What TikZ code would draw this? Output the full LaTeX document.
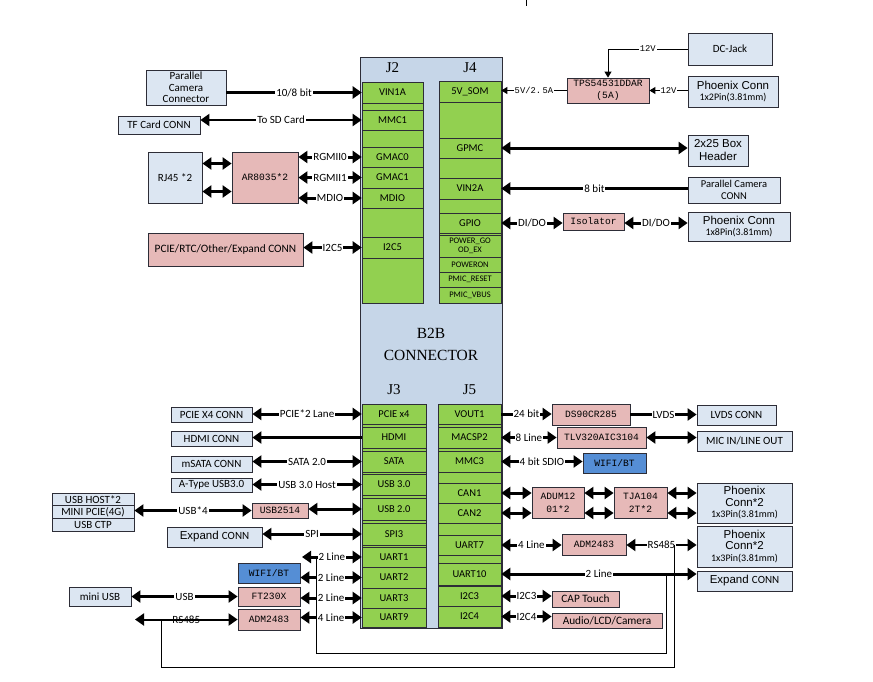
\documentclass[tikz,border=0pt]{standalone}
\usepackage{fontspec}
\setmainfont{Carlito}
\newfontfamily\chipfont{Liberation Mono}
\newfontfamily\arialfont{Liberation Sans}
\newfontfamily\jfont{Liberation Serif}
\usetikzlibrary{arrows.meta, calc}
\definecolor{b2bblue}{RGB}{198,214,232}
\definecolor{connblue}{RGB}{220,230,242}
\definecolor{chippink}{RGB}{230,185,184}
\definecolor{pingreen}{RGB}{146,208,80}
\definecolor{wifiblue}{RGB}{85,142,213}
\definecolor{edgegray}{RGB}{45,45,55}
\newcommand\fsz[2]{\fontsize{#1}{#2}\selectfont}
\newcommand\arl{\arialfont\fsz{11.5}{13}}
\newcommand\pinsz{\normalfont\fsz{10}{12}}
\newcommand\expandtxt{\arl Expand \normalfont\fsz{11}{12}CONN}
\tikzset{
  bigtip/.tip={Triangle[length=9pt,width=12pt]},
  smalltip/.tip={Triangle[length=6pt,width=7pt]},
  conn/.style={draw=edgegray, fill=connblue, line width=0.8pt, inner sep=0pt, align=center, font=\fsz{11}{11.5}},
  chip/.style={draw=edgegray, fill=chippink, line width=0.8pt, inner sep=0pt, align=center, font=\chipfont\fsz{9.6}{13}},
  chiptxt/.style={chip, font=\fsz{11.3}{12}},
  wifi/.style={chip, fill=wifiblue},
  pinrow/.style={draw=edgegray, fill=pingreen, line width=0.6pt, inner sep=0pt, align=center, font=\fsz{10.5}{11}},
  pinsm/.style={pinrow, font=\fsz{8.5}{9.5}},
  jlbl/.style={font=\jfont\fsz{15}{17}},
  bus/.style={line width=3pt, arrows={bigtip-bigtip}},
  busto/.style={line width=3pt, arrows={-bigtip}},
  link/.style={line width=2pt, arrows={bigtip-bigtip}},
  wire/.style={line width=1pt},
  wireto/.style={line width=1pt, arrows={-smalltip}},
  lbl/.style={fill=white, inner sep=1pt, font=\fsz{11}{11.5}},
  lblmono/.style={fill=white, inner sep=1pt, font=\chipfont\fsz{8.8}{10}},
}
\begin{document}
\begin{tikzpicture}[x=1pt, y=-1pt, font=\fsz{11}{11.5}]
  \useasboundingbox (0,0) rectangle (873,681);
  \draw[wire] (526,0) -- (526,6);

  % B2B connector
  \node[draw=edgegray, fill=b2bblue, line width=0.8pt, inner sep=0pt, minimum width=142pt, minimum height=571pt] (b2b) at (431,342.5) {};
  \node[jlbl] (jtwo) at (392.5,68) {J2};
  \node[jlbl] (jfour) at (470,68) {J4};
  \node[jlbl] (jthree) at (394,390) {J3};
  \node[jlbl] (jfive) at (469.5,390) {J5};
  \node[font=\jfont\fsz{15.5}{22}, align=center] (b2btitle) at (431,344) {B2B\\CONNECTOR};

  \foreach \nm/\ya/\yb/\lbl/\st in {
    vinA/82/103/VIN1A/pinrow, j2ga/103/110/{}/pinrow, mmcA/110/130/MMC1/pinrow,
    j2gb/130/147/{}/pinrow, gmacA/147/167/GMAC0/pinrow, gmacB/167/188/GMAC1/pinrow,
    mdio/188/208/MDIO/pinrow, j2gc/208/237/{}/pinrow, iicV/237/258/I2C5/pinrow,
    j2gd/258/303/{}/pinrow}
    \node[\st, minimum width=61pt, minimum height={(\yb-\ya)*1pt}] (\nm) at (392.5,{(\ya+\yb)/2}) {\lbl};
  \foreach \nm/\ya/\yb/\lbl/\st in {
    fivev/81/102/5V\_SOM/pinrow, j4ga/102/138/{}/pinrow, gpmc/138/158/GPMC/pinrow,
    j4gb/158/178/{}/pinrow, vinB/178/199/VIN2A/pinrow, j4gc/199/213/{}/pinrow,
    gpio/213/233/GPIO/pinrow, j4gd/233/235/{}/pinrow, pgood/235/257/{POWER\_GO\\OD\_EX}/pinsm,
    pwron/257/272/POWERON/pinsm, pmrst/272/287/PMIC\_RESET/pinsm, pmvbus/287/303/PMIC\_VBUS/pinsm}
    \node[\st, minimum width=62pt, minimum height={(\yb-\ya)*1pt}] (\nm) at (470,{(\ya+\yb)/2}) {\lbl};
  \foreach \nm/\ya/\yb/\lbl/\st in {
    pcie/404/424/PCIE x4/pinrow, j3ga/424/427/{}/pinrow, hdmi/427/448/HDMI/pinrow,
    j3gb/448/451/{}/pinrow, sata/451/472/SATA/pinrow, j3gc/472/474/{}/pinrow,
    usbc/474/495/USB 3.0/pinrow, j3gd/495/498/{}/pinrow, usbb/498/520/USB 2.0/pinrow,
    j3ge/520/523/{}/pinrow, spi/523/545/SPI3/pinrow, j3gf/545/547/{}/pinrow,
    uartA/547/567/UART1/pinrow, uartB/567/588/UART2/pinrow, uartC/588/608/UART3/pinrow,
    uartI/608/627/UART9/pinrow}
    \node[\st, minimum width=64pt, minimum height={(\yb-\ya)*1pt}] (\nm) at (394,{(\ya+\yb)/2}) {\lbl};
  \foreach \nm/\ya/\yb/\lbl/\st in {
    vout/404/424/VOUT1/pinrow, j5ga/424/427/{}/pinrow, macsp/427/448/MACSP2/pinrow,
    j5gb/448/451/{}/pinrow, mmcC/451/472/MMC3/pinrow, j5gc/472/483/{}/pinrow,
    canA/483/503/CAN1/pinrow, canB/503/523/CAN2/pinrow, j5gd/523/535/{}/pinrow,
    uartG/535/555/UART7/pinrow, j5ge/555/563/{}/pinrow, uartJ/563/585/UART10/pinrow,
    j5gf/585/586/{}/pinrow, iicC/586/606/I2C3/pinrow, iicD/606/627/I2C4/pinrow}
    \node[\st, minimum width=63pt, minimum height={(\yb-\ya)*1pt}] (\nm) at (469.5,{(\ya+\yb)/2}) {\lbl};

  % J2 side
  \node[conn, minimum width=80pt, minimum height=35pt] (pcamL) at (186,87.5) {Parallel\\Camera\\Connector};
  \node[conn, minimum width=82pt, minimum height=18pt] (tfcard) at (159,125) {TF Card CONN};
  \node[conn, minimum width=54pt, minimum height=51pt] (rjport) at (175,177.5) {RJ45 *2};
  \node[chip, minimum width=66pt, minimum height=51pt] (ethphy) at (265,177.5) {AR8035*2};
  \node[chiptxt, minimum width=155pt, minimum height=33pt] (expbus) at (225.5,249.5) {PCIE/RTC/Other/Expand CONN};

  \draw[busto] (pcamL.east |- vinA) -- (vinA.west) node[lbl, midway] {10/8 bit};
  \draw[link] (mmcA.west) -- (mmcA.west -| tfcard.east) node[lbl, midway] {To SD Card};
  \draw[bus] ([yshift=14pt]rjport.east) -- ([yshift=14pt]rjport.east -| ethphy.west);
  \draw[bus] ([yshift=-14pt]rjport.east) -- ([yshift=-14pt]rjport.east -| ethphy.west);
  \foreach \r/\t in {gmacA/RGMII0, gmacB/RGMII1, mdio/MDIO}
    \draw[bus] (\r.west -| ethphy.east) -- (\r.west) node[lbl, midway] {\t};
  \draw[bus] (iicV.west -| expbus.east) -- (iicV.west) node[lbl, midway] {I2C5};

  % J4 side
  \node[conn, minimum width=84pt, minimum height=32pt] (dcjack) at (730,49) {DC-Jack};
  \node[conn, minimum width=90pt, minimum height=31pt] (phxB) at (733,91.5) {\arl Phoenix Conn\\\pinsz 1x2Pin(3.81mm)};
  \node[chip, minimum width=82pt, minimum height=25pt, font=\chipfont\fsz{9.6}{12}] (buck) at (608,90.5) {TPS54531DDAR\\(5A)};
  \node[conn, minimum width=60pt, minimum height=31pt, font=\arialfont\fsz{11.5}{13}] (boxhdr) at (718,150.5) {2x25 Box\\Header};
  \node[conn, minimum width=92pt, minimum height=26pt, font=\fsz{10.5}{12}] (pcamR) at (734,190) {Parallel Camera\\CONN};
  \node[chip, minimum width=61pt, minimum height=17pt] (isol) at (593.5,221.5) {Isolator};
  \node[conn, minimum width=102pt, minimum height=29pt] (phxH) at (739,226.5) {\arl Phoenix Conn\\\pinsz 1x8Pin(3.81mm)};

  \draw[wireto] (buck.west) -- (buck.west -| fivev.east) node[lblmono, midway] {5V/2.\,5A};
  \draw[wireto] (dcjack.west) -| (buck.north) node[lblmono, pos=0.25] {12V};
  \draw[wireto] (phxB.west |- buck.east) -- (buck.east) node[lblmono, midway] {12V};
  \draw[bus] (gpmc.east) -- (gpmc.east -| boxhdr.west);
  \draw[busto] (pcamR.west |- vinB) -- (vinB.east) node[lbl, midway] {8 bit};
  \draw[bus] (gpio.east) -- (gpio.east -| isol.west) node[lbl, midway] {DI/DO};
  \draw[bus] (gpio.east -| isol.east) -- (gpio.east -| phxH.west) node[lbl, midway] {DI/DO};

  % J3 side
  \node[conn, minimum width=81pt, minimum height=15pt] (pciecon) at (211.5,414.5) {PCIE X4 CONN};
  \node[conn, minimum width=81pt, minimum height=15pt] (hdmicon) at (211.5,438.5) {HDMI CONN};
  \node[conn, minimum width=81pt, minimum height=16pt] (satacon) at (211.5,464) {mSATA CONN};
  \node[conn, minimum width=81pt, minimum height=14pt] (usbA) at (211.5,485) {A-Type USB3.0};
  \node[conn, minimum width=82pt, minimum height=12.7pt] (usbhost) at (93,499.3) {USB HOST*2};
  \node[conn, minimum width=82pt, minimum height=12.7pt] (minipcie) at (93,512) {MINI PCIE(4G)};
  \node[conn, minimum width=82pt, minimum height=12.7pt] (usbctp) at (93,524.7) {USB CTP};
  \node[chip, minimum width=56pt, minimum height=15pt] (usbhub) at (280,510.5) {USB2514};
  \node[conn, minimum width=95pt, minimum height=20pt] (expL) at (214.5,537) {\expandtxt};
  \node[wifi, minimum width=62pt, minimum height=20pt] (wifiL) at (269,573) {WIFI/BT};
  \node[conn, minimum width=62pt, minimum height=19pt] (miniusb) at (100,596.5) {mini USB};
  \node[chip, minimum width=62pt, minimum height=19pt] (uartbr) at (269,596.5) {FT230X};
  \node[chip, minimum width=62pt, minimum height=21pt] (rsL) at (269,619.5) {ADM2483};
  \coordinate (uartEnd) at (302,557);
  \coordinate (rsEnd) at (135,619.5);

  \draw[bus] (pcie.west) -- (pcie.west -| pciecon.east) node[lbl, midway] {PCIE*2 Lane};
  \draw[busto] (hdmi.west) -- (hdmi.west -| hdmicon.east);
  \draw[bus] (sata.west) -- (sata.west -| satacon.east) node[lbl, midway] {SATA 2.0};
  \draw[bus] (usbc.west) -- (usbc.west -| usbA.east) node[lbl, midway] {USB 3.0 Host};
  \draw[bus] (usbb.west) -- (usbb.west -| usbhub.east);
  \draw[bus] (usbhub.west) -- (usbhub.west -| minipcie.east) node[lbl, midway] {USB*4};
  \draw[bus] (spi.west) -- (spi.west -| expL.east) node[lbl, midway] {SPI};
  \draw[bus] (uartA.west) -- (uartEnd) node[lbl, midway] {2 Line};
  \draw[bus] (uartB.west) -- (uartB.west -| wifiL.east) node[lbl, midway] {2 Line};
  \draw[bus] (uartC.west) -- (uartC.west -| uartbr.east) node[lbl, midway] {2 Line};
  \draw[bus] (uartI.west) -- (uartI.west -| rsL.east) node[lbl, midway] {4 Line};
  \draw[bus] (miniusb.east) -- (uartbr.west) node[lbl, midway] {USB};
  \draw[link] (rsL.west) -- (rsEnd) node[lbl, midway, fill=none] {RS485};

  % J5 side
  \node[chip, minimum width=78pt, minimum height=21pt] (lvdsser) at (591,414.5) {DS90CR285};
  \node[conn, minimum width=79pt, minimum height=20pt] (lvdsconn) at (736.5,415) {LVDS CONN};
  \node[chip, minimum width=89pt, minimum height=21pt] (codec) at (601.5,437.5) {TLV320AIC3104};
  \node[conn, minimum width=95pt, minimum height=20pt] (audioio) at (744.5,441) {MIC IN/LINE OUT};
  \node[wifi, minimum width=63pt, minimum height=20pt] (wifiR) at (614.5,463) {WIFI/BT};
  \node[chip, minimum width=52pt, minimum height=31pt] (canisol) at (558,502.5) {ADUM12\\01*2};
  \node[chip, minimum width=53pt, minimum height=31pt] (cantrx) at (640.5,502.5) {TJA104\\2T*2};
  \node[conn, minimum width=95pt, minimum height=40pt] (phxCan) at (744.5,503) {\arl Phoenix\\\arl Conn*2\\\pinsz 1x3Pin(3.81mm)};
  \node[chip, minimum width=64pt, minimum height=21pt] (rsR) at (594,544.5) {ADM2483};
  \node[conn, minimum width=95pt, minimum height=41pt] (phxRs) at (744.5,546.5) {\arl Phoenix\\\arl Conn*2\\\pinsz 1x3Pin(3.81mm)};
  \node[conn, minimum width=95pt, minimum height=20pt] (expR) at (744.5,581) {\expandtxt};
  \node[chiptxt, minimum width=67pt, minimum height=16pt] (captouch) at (585.5,599) {CAP Touch};
  \node[chiptxt, minimum width=110pt, minimum height=15pt] (avlcd) at (607,620.5) {Audio/LCD/Camera};

  \draw[busto] (vout.east) -- (vout.east -| lvdsser.west) node[lbl, midway] {24 bit};
  \draw[busto] (lvdsser.east) -- (lvdsser.east -| lvdsconn.west) node[lbl, midway] {LVDS};
  \draw[bus] (macsp.east) -- (macsp.east -| codec.west) node[lbl, midway] {8 Line};
  \draw[bus] (codec.east) -- (codec.east -| audioio.west);
  \draw[bus] (mmcC.east) -- (mmcC.east -| wifiR.west) node[lbl, midway] {4 bit SDIO};
  \foreach \r in {canA, canB} {
    \draw[bus] (\r.east) -- (\r.east -| canisol.west);
    \draw[bus] (\r.east -| canisol.east) -- (\r.east -| cantrx.west);
    \draw[bus] (\r.east -| cantrx.east) -- (\r.east -| phxCan.west);
  }
  \draw[bus] (uartG.east) -- (uartG.east -| rsR.west) node[lbl, midway] {4 Line};
  \draw[link] (uartG.east -| rsR.east) -- (uartG.east -| phxRs.west) node[lbl, midway] {RS485};
  \draw[bus] (uartJ.east) -- (uartJ.east -| expR.west) node[lbl, midway] {2 Line};
  \draw[bus] (iicC.east) -- (iicC.east -| captouch.west) node[lbl, midway] {I2C3};
  \draw[bus] (iicD.east) -- (iicD.east -| avlcd.west) node[lbl, midway] {I2C4};

  % loops under the connector
  \coordinate (tapA) at (316,557);
  \coordinate (tapB) at (666,574);
  \coordinate (loopA) at (0,653);
  \coordinate (tapC) at (161,619.5);
  \coordinate (tapD) at (674,545);
  \coordinate (loopB) at (0,667);
  \draw[wire] (tapA) -- (tapA |- loopA) -| (tapB);
  \draw[wire] (tapC) -- (tapC |- loopB) -| (tapD);
\end{tikzpicture}
\end{document}
